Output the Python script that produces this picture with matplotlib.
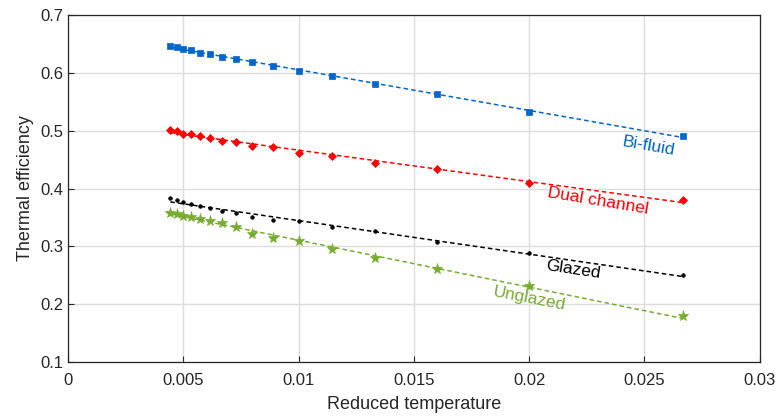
import numpy as np
import matplotlib.pyplot as plt

# reduced temperature values (shared by all collectors)
x_vals = [0.00444, 0.00471, 0.005, 0.00533, 0.00571, 0.00615, 0.00667, 0.00727,
          0.008, 0.00889, 0.01, 0.01143, 0.01333, 0.016, 0.02, 0.02667]

eff_bifluid = [0.646, 0.645, 0.641, 0.639, 0.635, 0.633, 0.628, 0.624,
               0.618, 0.612, 0.603, 0.595, 0.580, 0.564, 0.533, 0.491]
eff_dual = [0.501, 0.500, 0.495, 0.494, 0.490, 0.488, 0.483, 0.480,
            0.474, 0.471, 0.462, 0.457, 0.444, 0.434, 0.410, 0.381]
eff_glazed = [0.383, 0.380, 0.377, 0.374, 0.370, 0.366, 0.361, 0.358,
              0.351, 0.345, 0.344, 0.333, 0.327, 0.307, 0.288, 0.251]
eff_unglazed = [0.357, 0.356, 0.353, 0.351, 0.347, 0.344, 0.341, 0.333,
                0.322, 0.315, 0.310, 0.295, 0.280, 0.260, 0.231, 0.179]

series = [
    ("Bi-fluid", eff_bifluid, "#0066CC", "s", 5, (0.0252, 0.474), -10),
    ("Dual channel", eff_dual, "#FF0000", "D", 4.5, (0.0230, 0.378), -9.5),
    ("Glazed", eff_glazed, "black", "o", 2.6, (0.0219, 0.259), -8.5),
    ("Unglazed", eff_unglazed, "#77AC30", "*", 8, (0.0200, 0.209), -11),
]

plt.rcParams["font.family"] = ["Liberation Sans", "DejaVu Sans"]

fig = plt.figure(figsize=(7.78, 4.18), dpi=100)
ax = fig.add_axes([0.0874, 0.134, 0.889, 0.830])

x = np.array(x_vals)
for name, y, color, marker, ms, label_pos, rot in series:
    y = np.array(y)
    ax.plot(x, y, linestyle="none", marker=marker, color=color, markersize=ms,
            markeredgewidth=0.5, zorder=3)
    coef = np.polyfit(x, y, 1)
    ax.plot(x, np.polyval(coef, x), linestyle=(0, (3, 2)), color=color, linewidth=1.1, zorder=2)
    ax.text(label_pos[0], label_pos[1], name, color=color, fontsize=12.5,
            rotation=rot, ha="center", va="center", rotation_mode="anchor")

ax.set_xlim(0, 0.03)
ax.set_ylim(0.1, 0.7)
ax.set_xticks([0, 0.005, 0.01, 0.015, 0.02, 0.025, 0.03])
ax.set_xticklabels(["0", "0.005", "0.01", "0.015", "0.02", "0.025", "0.03"])
ax.set_yticks(np.arange(0.1, 0.71, 0.1))
ax.set_yticklabels(["0.1", "0.2", "0.3", "0.4", "0.5", "0.6", "0.7"])
ax.grid(True, color="#DCDCDC", linewidth=1.0)
ax.set_axisbelow(True)
ax.tick_params(direction="in", length=4, labelsize=12, colors="#262626")
ax.tick_params(axis="x", pad=8)
for sp in ax.spines.values():
    sp.set_color("#262626")
    sp.set_linewidth(0.9)
ax.set_xlabel("Reduced temperature", fontsize=13, color="#262626", labelpad=6)
ax.set_ylabel("Thermal efficiency", fontsize=13, color="#262626")

fig.savefig("out.png", dpi=100)
